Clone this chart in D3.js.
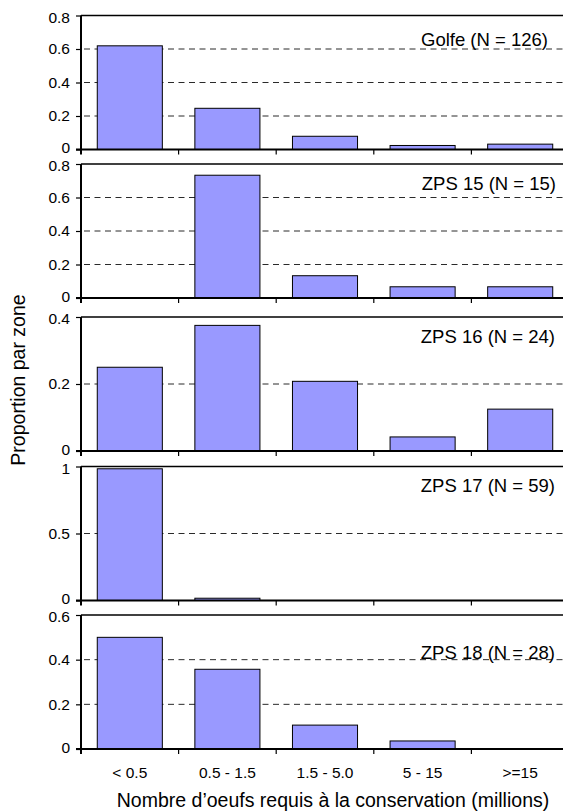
<!DOCTYPE html>
<html>
<head>
<meta charset="utf-8">
<script src="https://cdn.jsdelivr.net/npm/d3@7"></script>
<style>
  html, body { margin: 0; padding: 0; background: #fff; }
  svg { display: block; }
  text { font-family: "Liberation Sans", Arial, sans-serif; fill: #000; }
</style>
</head>
<body>
<svg id="chart" width="563" height="811"></svg>
<script>
// ---------- DATA ----------
const categories = ["< 0.5", "0.5 - 1.5", "1.5 - 5.0", "5 - 15", ">=15"];
const zoneLabels = ["Golfe (N = 126)", "ZPS 15 (N = 15)", "ZPS 16 (N = 24)", "ZPS 17 (N = 59)", "ZPS 18 (N = 28)"];
const golfe = [0.619, 0.246, 0.079, 0.024, 0.032];
const zps15 = [0, 0.733, 0.133, 0.067, 0.067];
const zps16 = [0.25, 0.375, 0.208, 0.042, 0.125];
const zps17 = [0.983, 0.017, 0, 0, 0];
const zps18 = [0.5, 0.357, 0.107, 0.036, 0];
const yMaxima = [0.8, 0.8, 0.4, 1, 0.6];
const yTickValues = [
  [0, 0.2, 0.4, 0.6, 0.8],
  [0, 0.2, 0.4, 0.6, 0.8],
  [0, 0.2, 0.4],
  [0, 0.5, 1],
  [0, 0.2, 0.4, 0.6]
];
const yAxisTitle = "Proportion par zone";
const xAxisTitle = "Nombre d\u2019oeufs requis \u00e0 la conservation (millions)";

const series = [golfe, zps15, zps16, zps17, zps18];

// ---------- LAYOUT ----------
const panelTops = [15.5, 164, 317, 466.5, 615];
const panelH = 134;
const labelOffsets = [24.5, 19.5, 20, 19.5, 38];   // label centre below panel top
const labelRight = [548, 556, 555, 555, 555];
const xLeft = 81, xRight = 569;

const svg = d3.select("#chart");

const x = d3.scaleBand()
  .domain(categories)
  .range([xLeft, xRight])
  .paddingInner(1 / 3)
  .paddingOuter(1 / 6);
const gapHalf = (x.step() - x.bandwidth()) / 2;
const boundaries = categories.map(c => x(c) - gapHalf).concat([xRight]);

series.forEach((vals, i) => {
  const top = panelTops[i];
  const y = d3.scaleLinear().domain([0, yMaxima[i]]).range([top + panelH, top]);
  const g = svg.append("g");
  const ticks = yTickValues[i];

  // dashed gridlines (not at 0 or top)
  g.selectAll("line.grid")
    .data(ticks.filter(t => t > 0 && t < yMaxima[i]))
    .join("line")
    .attr("class", "grid")
    .attr("x1", xLeft + 3).attr("x2", 563)
    .attr("y1", d => y(d)).attr("y2", d => y(d))
    .attr("stroke", "#2a2a2a")
    .attr("stroke-width", 1)
    .attr("stroke-dasharray", "6,4.5");

  // top border
  g.append("line")
    .attr("x1", xLeft).attr("x2", 563)
    .attr("y1", y(yMaxima[i])).attr("y2", y(yMaxima[i]))
    .attr("stroke", "#000").attr("stroke-width", 1.5);

  // bars
  const data = categories.map((c, k) => ({ c, v: vals[k] })).filter(d => d.v > 0);
  g.selectAll("rect.bar")
    .data(data)
    .join("rect")
    .attr("class", "bar")
    .attr("x", d => x(d.c))
    .attr("width", x.bandwidth())
    .attr("y", d => y(d.v))
    .attr("height", d => y(0) - y(d.v))
    .attr("fill", "#9999ff")
    .attr("stroke", "#000")
    .attr("stroke-width", 1);

  // y axis
  const yAxis = d3.axisLeft(y)
    .tickValues(ticks)
    .tickSize(5)
    .tickPadding(6)
    .tickFormat(d => d3.format("")(+d.toFixed(2)));
  const ya = g.append("g").attr("transform", `translate(${xLeft},0)`).call(yAxis);
  ya.select(".domain").remove();
  ya.selectAll(".tick line").attr("stroke", "#000").attr("stroke-width", 1.2);
  ya.selectAll(".tick text")
    .attr("font-size", 15.5)
    .attr("font-family", "'Liberation Sans', Arial, sans-serif")
    .attr("fill", "#000")
    .attr("dy", d => d === 0 ? "0.2em" : (d === yMaxima[i] ? "0.45em" : "0.32em"));

  // y axis line
  g.append("line")
    .attr("x1", xLeft).attr("x2", xLeft)
    .attr("y1", y(yMaxima[i])).attr("y2", y(0) + 5)
    .attr("stroke", "#000").attr("stroke-width", 2);

  // x axis line
  g.append("line")
    .attr("x1", xLeft - 5).attr("x2", 563)
    .attr("y1", y(0)).attr("y2", y(0))
    .attr("stroke", "#000").attr("stroke-width", 2);

  // x category boundary ticks
  g.selectAll("line.xt")
    .data(boundaries.slice(1, 5))
    .join("line")
    .attr("class", "xt")
    .attr("x1", d => d).attr("x2", d => d)
    .attr("y1", y(0)).attr("y2", y(0) + 5)
    .attr("stroke", "#000").attr("stroke-width", 1.2);

  // zone label
  g.append("text")
    .attr("x", labelRight[i])
    .attr("y", top + labelOffsets[i])
    .attr("dy", "0.35em")
    .attr("text-anchor", "end")
    .attr("font-size", 18.5)
    .text(zoneLabels[i]);

  // category labels under last panel
  if (i === series.length - 1) {
    g.selectAll("text.cat")
      .data(categories)
      .join("text")
      .attr("class", "cat")
      .attr("x", d => x(d) + x.bandwidth() / 2)
      .attr("y", 773)
      .attr("dy", "0.35em")
      .attr("text-anchor", "middle")
      .attr("font-size", 15.5)
      .text(d => d);
  }
});

// axis titles
svg.append("text")
  .attr("x", 333)
  .attr("y", 800)
  .attr("dy", "0.35em")
  .attr("text-anchor", "middle")
  .attr("font-size", 19.5)
  .text(xAxisTitle);

svg.append("text")
  .attr("transform", "translate(18,380) rotate(-90)")
  .attr("dy", "0.35em")
  .attr("text-anchor", "middle")
  .attr("font-size", 19.5)
  .text(yAxisTitle);
</script>
</body>
</html>
